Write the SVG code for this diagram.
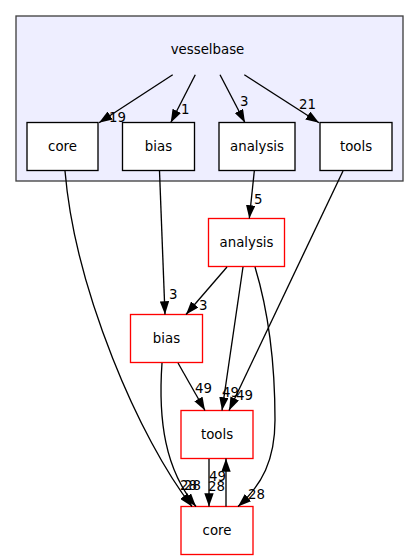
<svg xmlns="http://www.w3.org/2000/svg" width="419" height="560" viewBox="0 0 419 560">
<defs>
<style>
text{font-family:"DejaVu Sans","Liberation Sans",sans-serif;font-size:13.33px;fill:#000}
.n{text-anchor:middle}
.box{fill:#fff;stroke:#000;stroke-width:1.33}
.ext{fill:#fff;stroke:#ff0000;stroke-width:1.33}
.e{fill:none;stroke:#000;stroke-width:1.33;marker-end:url(#ah)}
</style>
<marker id="ah" viewBox="0 0 13.3 9.4" refX="13.3" refY="4.7" markerWidth="13.3" markerHeight="9.4" markerUnits="userSpaceOnUse" orient="auto">
<path d="M0,0 L13.3,4.7 L0,9.4 z" fill="#000"/>
</marker>
</defs>
<rect width="419" height="560" fill="#fff"/>
<g id="cluster_vesselbase">
<rect x="16" y="16" width="387" height="165" fill="#eeeeff" stroke="#404040" stroke-width="1.33"/>
<text class="n" x="207.5" y="54">vesselbase</text>
</g>
<g id="c_core"><rect class="box" x="27" y="122.5" width="71" height="48"/><text class="n" x="62.5" y="150.5">core</text></g>
<g id="c_bias"><rect class="box" x="122.5" y="122.5" width="72" height="48"/><text class="n" x="158.5" y="150.5">bias</text></g>
<g id="c_analysis"><rect class="box" x="219" y="122.5" width="76" height="48"/><text class="n" x="257" y="150.5">analysis</text></g>
<g id="c_tools"><rect class="box" x="320" y="122.5" width="72" height="48"/><text class="n" x="356" y="150.5">tools</text></g>
<g id="analysis"><rect class="ext" x="208.5" y="218.5" width="76" height="48"/><text class="n" x="246.5" y="246.5">analysis</text></g>
<g id="bias"><rect class="ext" x="130.5" y="314.5" width="72" height="48"/><text class="n" x="166.5" y="342.5">bias</text></g>
<g id="tools"><rect class="ext" x="181" y="410.5" width="72" height="48"/><text class="n" x="217" y="438.5">tools</text></g>
<g id="core"><rect class="ext" x="181" y="506.5" width="72" height="48"/><text class="n" x="217" y="534.5">core</text></g>
<g id="edges">
<path class="e" d="M172.7,74.7 L99,122.7"/>
<text x="109" y="122">19</text>
<path class="e" d="M195.3,74.7 L170.7,122.7"/>
<text x="181" y="114">1</text>
<path class="e" d="M220,74.7 L245,122.7"/>
<text x="240" y="106">3</text>
<path class="e" d="M244.3,74.7 L319,122.7"/>
<text x="299" y="109">21</text>
<path class="e" d="M65,171 C75,290 140,440 192,506.5"/>
<text x="180" y="490">28</text>
<path class="e" d="M159.5,171 L165,314.5"/>
<text x="169" y="299">3</text>
<path class="e" d="M254.3,171 L249.3,218.5"/>
<text x="254" y="204">5</text>
<path class="e" d="M343,171 L229,410.5"/>
<text x="236" y="400">49</text>
<path class="e" d="M227,267 L186,314.5"/>
<text x="199" y="310">3</text>
<path class="e" d="M243,267 L222,410.5"/>
<text x="222" y="397">49</text>
<path class="e" d="M255,267 C268,310 275,360 275,420 C275,460 262,485 238,506.5"/>
<text x="248" y="499">28</text>
<path class="e" d="M178,363 L205,410.5"/>
<text x="195" y="393">49</text>
<path class="e" d="M162,363 C158,420 165,470 196,506.5"/>
<text x="184" y="490">28</text>
<path class="e" d="M209,459 L209,506.5"/>
<text x="208" y="491">28</text>
<path class="e" d="M226,506.5 L226,458.5"/>
<text x="209" y="481">49</text>
</g>
</svg>
